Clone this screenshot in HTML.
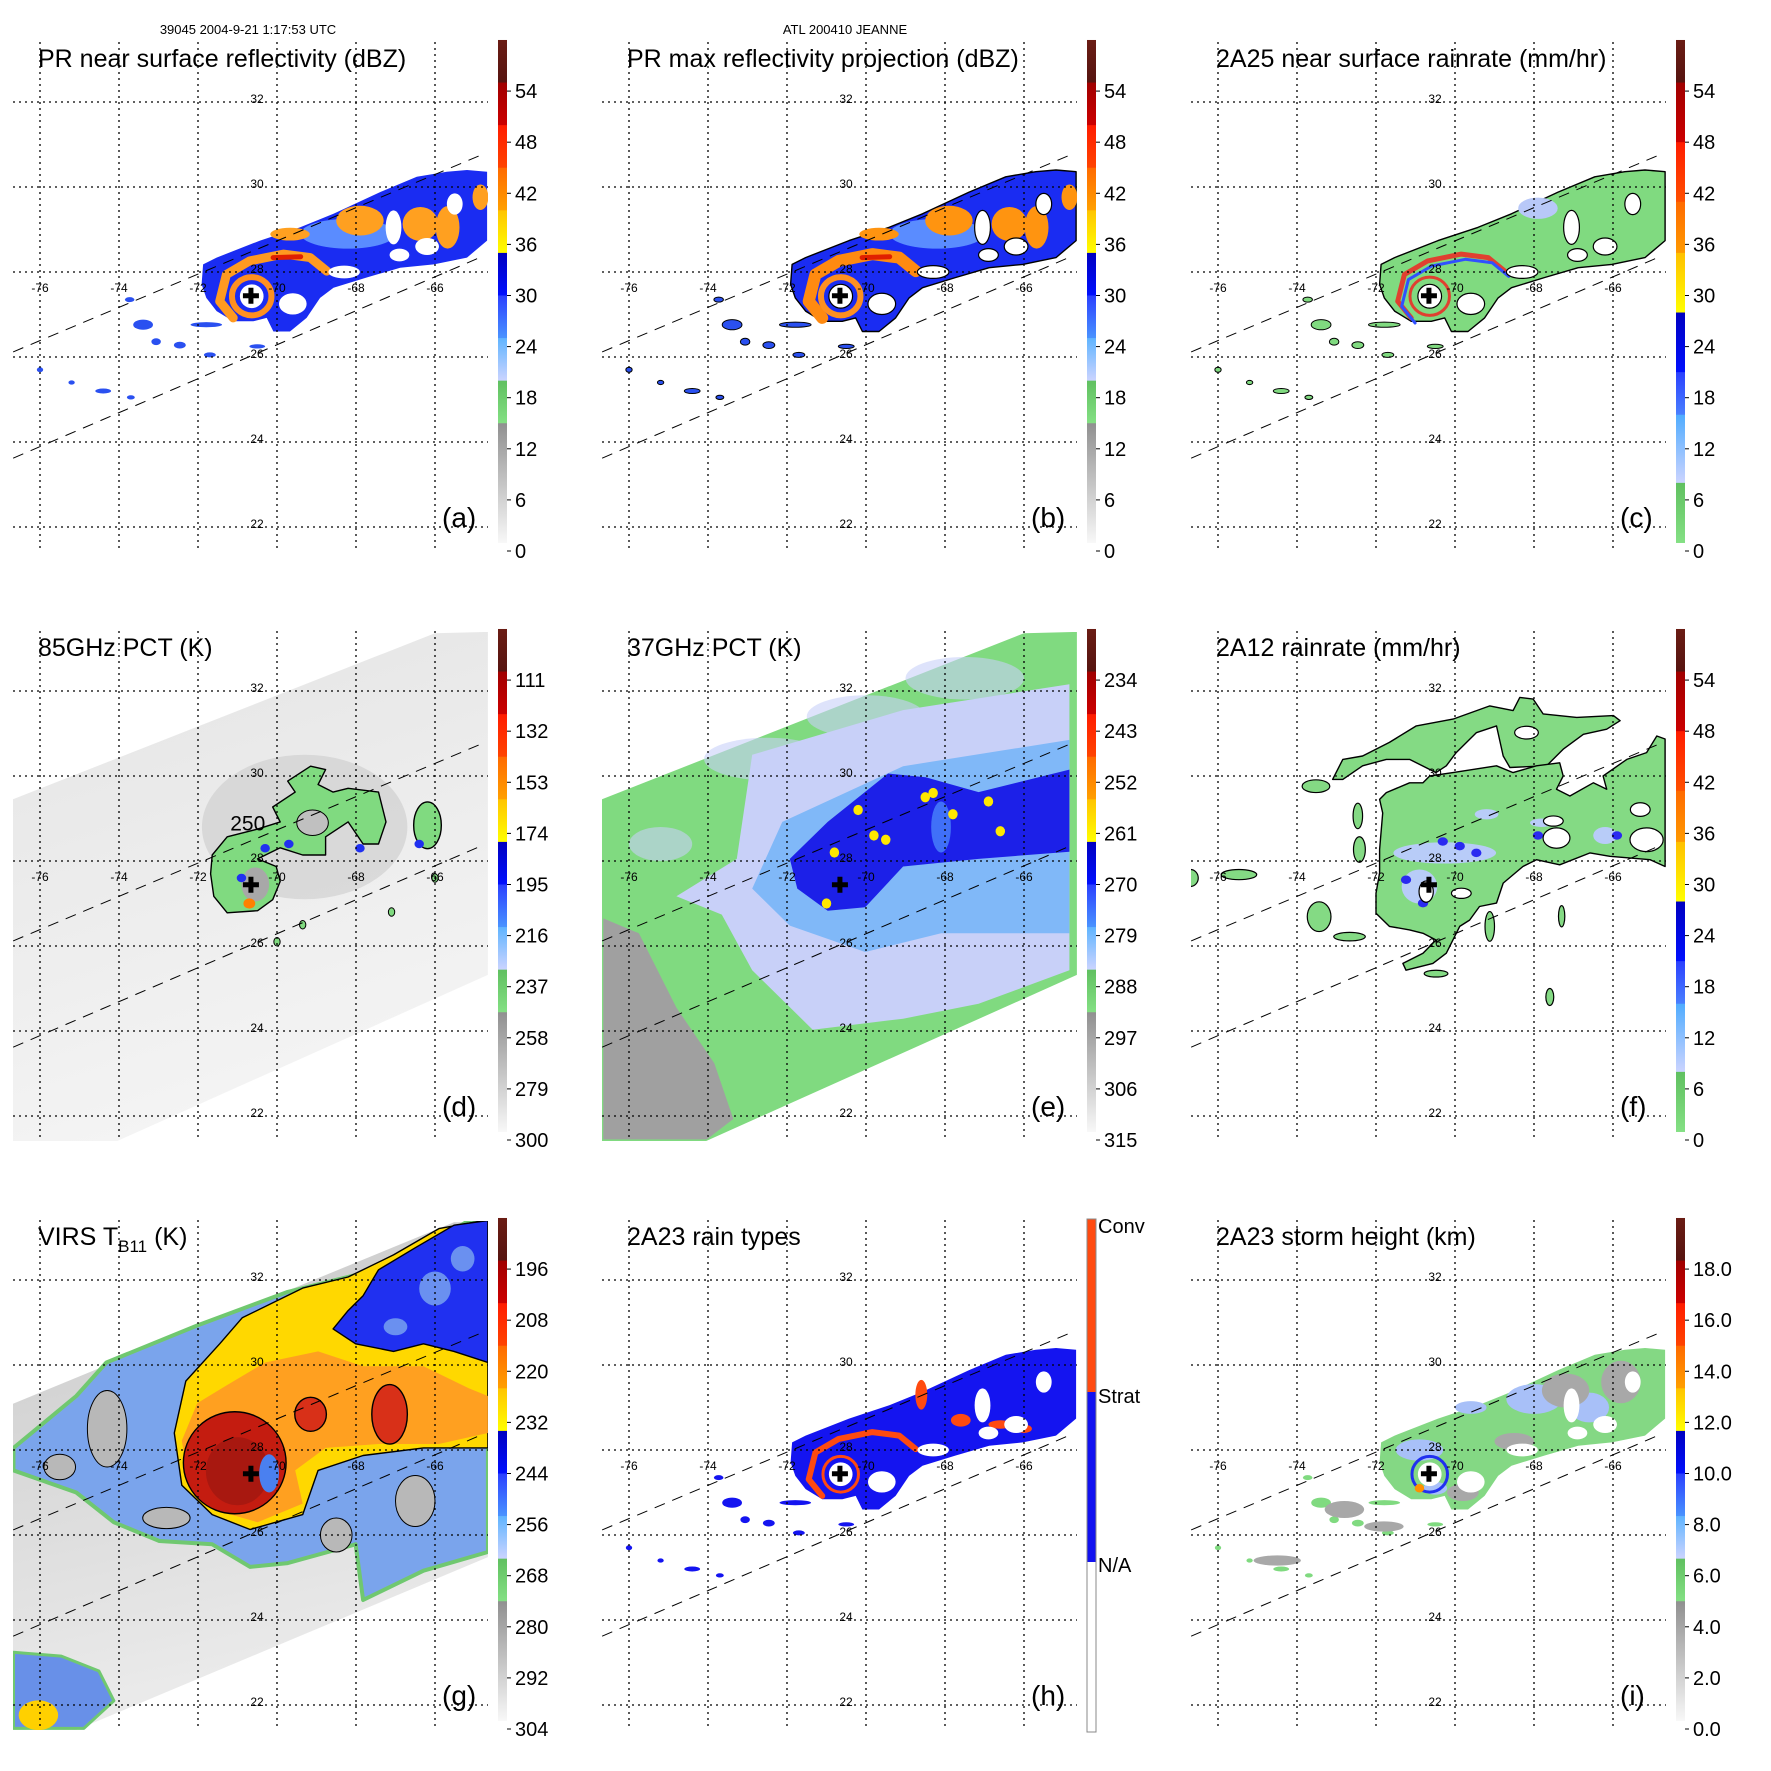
<!DOCTYPE html>
<html><head><meta charset="utf-8"><title>JEANNE TRMM overpass</title>
<style>
html,body{margin:0;padding:0;background:#fff;}
svg{display:block;font-family:"Liberation Sans",Arial,sans-serif;}
</style></head>
<body>
<svg id="fig" xmlns="http://www.w3.org/2000/svg" width="1771" height="1771" viewBox="0 0 1771 1771">
<rect x="0" y="0" width="1771" height="1771" fill="#fff"/>
<text x="248" y="34" font-size="13" text-anchor="middle">39045 2004-9-21 1:17:53 UTC</text>
<text x="845" y="34" font-size="13" text-anchor="middle">ATL 200410 JEANNE</text>
<defs id="defs"></defs>
</svg>
<script>
// ---------- data ----------
const lonTicks=[-76,-74,-72,-70,-68,-66];
const latTicks=[32,30,28,26,24,22];
const stormCenter=[-70.66,27.44];
const ticksDbz=['54','48','42','36','30','24','18','12','6','0'];
const ticksRain=['54','48','42','36','30','24','18','12','6','0'];
const ticks85=['111','132','153','174','195','216','237','258','279','300'];
const ticks37=['234','243','252','261','270','279','288','297','306','315'];
const ticksVirs=['196','208','220','232','244','256','268','280','292','304'];
const ticksHeight=['18.0','16.0','14.0','12.0','10.0','8.0','6.0','4.0','2.0','0.0'];
const rainTypeLabels=['Conv','Strat','N/A'];
const bandEdgesA=[60,55,50,45,40,35,30,25,20,15,1];
const bandEdgesC=[60,55,48,41,35,28,21,16,8,1];
const bandColorsA=[['#6a1c14','#561410'],['#a00000','#cc0000'],['#ff1c00','#ff4400'],['#ff6a00','#ffa000'],['#ffc400','#ffff00'],['#0000c0','#0010ff'],['#2a40ff','#4a94ff'],['#60b4ff','#ccd4ff'],['#60c060','#84e084'],['#909090','#f8f8f8']];
const bandColorsC=[['#6a1c14','#561410'],['#a00000','#cc0000'],['#ff1c00','#ff5000'],['#ff6a00','#ff9a00'],['#ffc000','#ffff00'],['#0000c0','#0010ff'],['#2a40ff','#4a80ff'],['#50acff','#ccd4ff'],['#60c060','#84e084']];
const swathUpper=[[-76.68,26.12],[-64.89,30.73]];
const swathLower=[[-76.68,23.62],[-64.89,28.33]];
const microSwath=[[-76.94,29.36],[-66.0,33.36],[-64.66,33.39],[-64.66,25.32],[-74.05,21.41],[-76.94,21.41]];
const virsSwath=[[-76.94,28.99],[-65.52,33.36],[-64.66,33.36],[-64.66,25.48],[-75.09,21.41],[-76.94,21.41]];
const prBody=[[-71.87,28.18],[-71.53,28.34],[-70.43,28.74],[-69.42,29.05],[-68.57,29.37],[-67.39,29.88],[-66.46,30.24],[-65.70,30.36],[-65.19,30.40],[-64.68,30.36],[-64.68,28.74],[-65.19,28.34],[-66.03,28.18],[-66.88,28.10],[-67.73,27.87],[-68.57,27.63],[-68.91,27.39],[-69.25,26.92],[-69.67,26.60],[-70.09,26.60],[-70.26,26.92],[-70.60,26.84],[-71.11,26.84],[-71.53,27.08],[-71.79,27.39],[-71.91,27.71]];
const prHoles=[[-67.05,29.05,0.2,0.4],[-66.2,28.6,0.3,0.2],[-68.3,28.0,0.4,0.15],[-69.6,27.25,0.35,0.25],[-65.5,29.6,0.2,0.25],[-66.9,28.4,0.25,0.15],[-70.64,27.43,0.3,0.28]];
const prSpiral=[[-71.11,26.92],[-71.45,27.31],[-71.28,27.94],[-70.69,28.26],[-69.84,28.42],[-69.16,28.34],[-68.74,28.02]];
const prConvPatches=[[-67.90,29.21,0.6,0.35],[-66.37,29.13,0.45,0.4],[-65.68,29.05,0.3,0.5],[-64.85,29.76,0.2,0.3],[-69.67,28.89,0.5,0.15]];
const prFragments=[[-73.39,26.76,0.25,0.12],[-73.06,26.36,0.12,0.08],[-71.79,26.76,0.4,0.06],[-72.46,26.28,0.15,0.08],[-71.70,26.05,0.15,0.06],[-73.73,27.35,0.12,0.06],[-76.0,25.7,0.08,0.06],[-75.2,25.4,0.08,0.05],[-74.4,25.2,0.2,0.06],[-73.7,25.05,0.1,0.05],[-70.5,26.25,0.2,0.05]];
const dHook=[[-71.64,28.14],[-71.26,28.57],[-70.49,28.75],[-69.92,28.92],[-70.11,29.27],[-69.54,29.62],[-69.73,29.88],[-69.15,30.23],[-68.77,30.15],[-68.96,29.80],[-68.58,29.62],[-68.20,29.71],[-67.43,29.62],[-67.24,28.92],[-67.43,28.40],[-67.82,28.40],[-68.20,28.92],[-68.77,28.57],[-68.77,28.14],[-69.35,28.14],[-69.92,28.31],[-70.49,28.05],[-70.02,27.87],[-69.92,27.52],[-70.11,27.09],[-70.49,26.83],[-71.26,26.78],[-71.60,27.17],[-71.68,27.70]];
const eLavender=[[-72.88,30.50],[-69.06,31.55],[-64.85,32.16],[-64.85,25.43],[-67.15,24.64],[-69.06,24.29],[-71.35,24.03],[-72.88,25.43],[-73.65,26.74],[-74.80,27.17],[-73.27,28.05]];
const eLightBlue=[[-72.12,28.92],[-69.06,30.23],[-64.85,30.85],[-64.85,26.30],[-68.10,26.30],[-70.02,25.86],[-71.93,26.48],[-72.88,27.35]];
const eCore=[[-71.93,28.05],[-70.97,28.92],[-69.44,30.06],[-68.49,29.97],[-67.15,29.62],[-64.85,30.15],[-64.85,28.22],[-67.15,28.05],[-69.06,27.87],[-70.02,26.91],[-70.97,26.83],[-71.74,27.35]];
const eGray=[[-76.65,26.65],[-75.75,26.30],[-74.80,24.55],[-73.84,23.24],[-73.36,21.93],[-74.03,21.45],[-76.65,21.45]];
const eYellow=[[-70.2,29.2],[-69.8,28.6],[-69.5,28.5],[-68.5,29.5],[-67.8,29.1],[-66.9,29.4],[-66.6,28.7],[-71.0,27.0],[-70.8,28.2],[-68.3,29.6]];
const fArcA=[[-73.10,29.92],[-72.84,30.39],[-72.34,30.47],[-71.66,30.79],[-70.98,31.18],[-70.05,31.34],[-69.12,31.65],[-68.53,31.54],[-68.36,31.85],[-68.02,31.81],[-67.77,31.46],[-66.92,31.38],[-65.99,31.42],[-65.82,31.30],[-66.16,31.10],[-66.75,30.98],[-67.26,30.63],[-67.68,30.24],[-68.61,30.20],[-68.78,30.47],[-68.95,31.18],[-69.46,31.02],[-69.97,30.55],[-70.22,30.24],[-70.48,30.08],[-71.15,30.39],[-71.74,30.39],[-72.34,30.24],[-72.84,29.92]];
const fBody=[[-71.91,28.27],[-71.83,29.13],[-71.91,29.45],[-71.74,29.61],[-71.15,29.84],[-70.81,29.84],[-70.64,30.00],[-70.05,30.08],[-68.95,30.24],[-68.53,30.08],[-67.94,30.24],[-67.35,30.31],[-67.26,30.00],[-67.43,29.69],[-67.09,29.53],[-66.50,29.84],[-66.16,29.69],[-66.25,30.00],[-65.65,30.39],[-65.15,30.55],[-64.89,30.94],[-64.68,30.87],[-64.68,27.87],[-65.06,28.03],[-66.08,28.11],[-66.58,28.19],[-67.35,27.91],[-67.94,28.03],[-68.28,27.87],[-68.78,27.48],[-68.95,27.01],[-69.38,26.93],[-69.63,26.61],[-69.88,26.46],[-70.22,25.83],[-70.56,25.59],[-71.24,25.43],[-71.32,25.59],[-70.81,25.83],[-70.48,26.14],[-70.81,26.30],[-71.15,26.38],[-71.66,26.46],[-72.00,26.77],[-72.00,27.24],[-71.91,27.72]];
const fHoles=[[-67.43,28.54,0.34,0.24],[-65.15,28.50,0.42,0.28],[-67.51,28.94,0.25,0.12],[-70.73,27.28,0.18,0.25],[-69.84,27.24,0.25,0.12],[-65.31,29.21,0.25,0.16],[-68.19,31.02,0.3,0.15]];
const fBlobs=[[-73.44,26.69,0.3,0.35],[-75.47,27.68,0.45,0.12],[-72.46,29.06,0.12,0.3],[-72.42,28.27,0.15,0.3],[-73.52,29.76,0.35,0.15],[-72.67,26.22,0.4,0.1],[-70.48,25.35,0.3,0.08],[-69.12,26.46,0.12,0.35],[-67.60,24.80,0.1,0.2],[-76.7,27.6,0.2,0.2],[-67.3,26.7,0.08,0.25]];
const fBlueSpots=[[-70.31,28.46],[-69.88,28.35],[-69.46,28.19],[-71.24,27.56],[-70.81,27.01],[-67.9,28.6],[-65.9,28.6]];
const gBlue=[[-76.67,28.05],[-75.08,29.27],[-74.32,30.06],[-72.02,30.93],[-69.73,31.72],[-67.82,32.16],[-66.29,32.77],[-65.14,33.40],[-64.66,33.40],[-64.66,25.60],[-66.29,25.16],[-67.82,24.47],[-68.01,25.78],[-69.73,25.34],[-70.68,25.25],[-71.64,25.78],[-72.98,25.86],[-74.13,26.30],[-75.08,27.00],[-76.67,27.52]];
const gYellow=[[-72.60,28.40],[-72.31,29.62],[-71.45,30.50],[-70.88,31.11],[-69.35,31.81],[-68.20,32.07],[-67.05,32.59],[-65.90,33.21],[-64.76,33.40],[-64.66,33.40],[-64.66,28.05],[-66.29,28.05],[-67.82,27.87],[-68.96,27.52],[-69.35,26.48],[-70.68,26.13],[-71.64,26.48],[-72.41,27.17]];
const gColdTop=[[-67.82,31.63],[-67.43,32.24],[-66.48,32.77],[-65.52,33.29],[-64.66,33.40],[-64.66,30.06],[-65.52,30.32],[-66.29,30.50],[-67.05,30.32],[-68.01,30.50],[-68.58,30.85],[-68.20,31.28]];
const gOrange=[[-72.41,28.22],[-72.02,29.10],[-71.26,29.53],[-70.30,30.06],[-68.96,30.32],[-67.82,29.97],[-66.29,29.97],[-65.14,29.45],[-64.66,29.27],[-64.66,28.40],[-65.90,28.14],[-67.43,28.14],[-68.77,28.05],[-69.54,27.52],[-69.35,26.74],[-70.49,26.30],[-71.45,26.56],[-72.21,27.17]];
const gRedCore=[-71.07,27.70,1.3,1.2];
const gRedCells=[[-69.15,28.84,0.4,0.4],[-67.15,28.84,0.45,0.7]];
const gCornerCloud=[[-76.67,23.24],[-75.46,23.15],[-74.51,22.80],[-74.13,22.10],[-74.89,21.45],[-76.67,21.45]];
const iGrayPatches=[[-67.2,29.4,0.6,0.4],[-65.8,29.6,0.5,0.5],[-68.5,28.2,0.5,0.2],[-69.8,27.0,0.4,0.2],[-72.8,26.6,0.5,0.2],[-71.8,26.2,0.5,0.12],[-74.5,25.4,0.6,0.12]];
const iBluePatches=[[-68.0,29.2,0.7,0.35],[-66.6,29.0,0.5,0.35],[-70.9,28.0,0.6,0.25],[-70.5,27.1,0.3,0.15],[-69.6,29.0,0.4,0.15]];

// ---------- helpers ----------
const NS='http://www.w3.org/2000/svg';
const svg=document.getElementById('fig');
const defs=document.getElementById('defs');
const STEP=589;
function X(lon){return 40+(lon+76)*39.5;}
function Y(lat){return 102+(32-lat)*42.5;}
function CB(v){return 551-v*8.517;}
function mk(tag,attrs,parent){const e=document.createElementNS(NS,tag);for(const k in attrs)e.setAttribute(k,attrs[k]);parent.appendChild(e);return e;}
function P(list){return list.map(p=>X(p[0]).toFixed(1)+','+Y(p[1]).toFixed(1)).join(' ');}
function poly(g,list,fill,stroke,name,sw){
  const e=mk('polygon',{points:P(list),fill:fill,stroke:stroke||'none','stroke-width':sw||1.4,'stroke-linejoin':'round'},g);
  
  
  return e;}
function ell(g,c,fill,stroke,name,sw){
  const e=mk('ellipse',{cx:X(c[0]),cy:Y(c[1]),rx:c[2]*39.5,ry:c[3]*42.5,fill:fill,stroke:stroke||'none','stroke-width':sw||1.4},g);
  
  
  return e;}
function curve(g,list,stroke,w,name){
  const d='M'+list.map(p=>X(p[0]).toFixed(1)+' '+Y(p[1]).toFixed(1)).join(' L');
  const e=mk('path',{d:d,fill:'none',stroke:stroke,'stroke-width':w,'stroke-linecap':'round','stroke-linejoin':'round'},g);
  
  
  return e;}
function grad(id,c1,c2,x2,y2){
  const lg=mk('linearGradient',{id:id,x1:0,y1:0,x2:x2,y2:y2},defs);
  mk('stop',{offset:0,'stop-color':c1},lg);mk('stop',{offset:1,'stop-color':c2},lg);}

// ---------- panel data layers ----------
function prLayer(g,mode){
  const body={a:'#1a2cf2',b:'#1a2cf2',c:'#80da80',h:'#1414f0',i:'#84d884'}[mode];
  const stroke=(mode==='b'||mode==='c')?'#000':'none';
  prFragments.forEach(f=>ell(g,f,mode==='c'||mode==='i'?'#80da80':(mode==='h'?'#1414f0':'#2a50f0'),stroke,'rain-fragment',1));
  poly(g,prBody,body,stroke,'pr-rain-body');
  if(mode==='a'||mode==='b'){
    ell(g,[-68.2,28.9,1.2,0.35],'#5a8cff','none','light-rain-band');
    prConvPatches.forEach(c=>ell(g,c,mode==='b'?'#ff9410':'#ffa020','none','convective-patch'));
    curve(g,prSpiral,mode==='b'?'#ff8a10':'#ff9a20',mode==='b'?12:9,'spiral-rainband');
    curve(g,[[-70.1,28.34],[-69.4,28.36]],'#e02000',5,'intense-core');
    ell(g,[-70.64,27.43,0.5,0.45],'none','#ff9020','eyewall-ring',6);
  } else if(mode==='c'){
    curve(g,prSpiral,'#e04030',5,'heavy-rain-band');
    curve(g,prSpiral.map(p=>[p[0]+0.1,p[1]-0.12]),'#3050ff',3,'moderate-rain-band');
    ell(g,[-67.9,29.5,0.5,0.25],'#b8c8f8','none','light-rain-patch');
    ell(g,[-70.64,27.43,0.5,0.45],'none','#e04030','eyewall-ring',3);
  } else if(mode==='h'){
    curve(g,prSpiral,'#ff4a10',6,'convective-band');
    ell(g,[-70.64,27.43,0.45,0.42],'none','#ff4a10','eyewall-ring',3);
    [[-68.6,29.3,0.15,0.35],[-67.6,28.7,0.25,0.15],[-66.6,28.6,0.3,0.1],[-66.0,28.5,0.2,0.1]].forEach(c=>ell(g,c,'#ff4a10','none','convective-cell'));
  } else if(mode==='i'){
    iBluePatches.forEach(c=>ell(g,c,'#a8c0f8','none','height-8km-patch'));
    iGrayPatches.forEach(c=>ell(g,c,'#a8a8a8','none','height-4km-patch'));
    ell(g,[-70.64,27.43,0.45,0.42],'none','#2030f0','eyewall-ring',3);
    ell(g,[-70.9,27.1,0.12,0.1],'#ff9000','none','tall-cell');
  }
  prHoles.forEach(h=>ell(g,h,'#fff',stroke,'no-rain-hole',1.2));
}
function layerD(g){
  poly(g,microSwath,'url(#gd)','none','85ghz-swath');
  ell(g,[-69.3,28.8,2.6,1.7],'#c8c8c8','none','ice-scattering-halo').setAttribute('opacity','0.55');
  poly(g,dHook,'#80da80','#000','pct-250k-contour');
  ell(g,[-69.1,28.9,0.4,0.3],'#c0c0c0','#000','contour-hole',1);
  ell(g,[-70.55,27.45,0.35,0.4],'#a8a8a8','none','eye-region');
  ell(g,[-66.19,28.84,0.35,0.55],'#80da80','#000','cell-contour');
  ell(g,[-70.7,27.0,0.15,0.12],'#ff8000','none','strong-scattering');
  [[-70.3,28.3],[-69.7,28.4],[-67.9,28.3],[-66.4,28.4],[-70.9,27.6]].forEach(c=>ell(g,[c[0],c[1],0.12,0.1],'#2030f0','none','deep-convection-spot'));
  [[-66.0,27.6],[-69.35,26.5],[-70.0,26.1],[-67.1,26.8]].forEach(c=>ell(g,[c[0],c[1],0.08,0.1],'#80da80','#000','small-cell',1));
  const t=mk('text',{x:X(-70.74),y:Y(28.88)+7,'font-size':21,'text-anchor':'middle'},g);
  
  
  t.textContent='250';
}
function layerE(g){
  poly(g,microSwath,'#80da80','none','37ghz-swath');
  poly(g,eGray,'#a0a0a0','none','warm-ocean-region');
  [[-72.5,30.4,1.6,0.5],[-70.0,31.4,1.5,0.5],[-67.5,32.3,1.5,0.5],[-75.2,28.4,0.8,0.4]].forEach(c=>ell(g,c,'#c8d0f8','none','speckle-region').setAttribute('opacity','0.6'));
  poly(g,eLavender,'#c8d0f8','none','light-rain-region');
  poly(g,eLightBlue,'#80b8f8','none','moderate-rain-region');
  poly(g,eCore,'#1c20e8','none','heavy-rain-core');
  ell(g,[-68.1,28.8,0.25,0.6],'#4070f8','none','core-gap');
  eYellow.forEach(c=>ell(g,[c[0],c[1],0.12,0.12],'#ffe800','none','very-heavy-rain-spot'));
}
function layerF(g){
  fBlobs.forEach(c=>ell(g,c,'#84da84','#000','rain-blob',1.2));
  poly(g,fArcA,'#84da84','#000','outer-rainband');
  poly(g,fBody,'#84da84','#000','main-rain-shield');
  ell(g,[-70.26,28.19,1.3,0.25],'#b8ccf8','none','moderate-rain-band');
  ell(g,[-70.9,27.4,0.45,0.4],'#b8ccf8','none','inner-core-rain');
  [[-69.2,29.1,0.3,0.12],[-67.8,28.9,0.3,0.1],[-66.2,28.6,0.3,0.2]].forEach(c=>ell(g,c,'#b8ccf8','none','light-rain-patch'));
  fBlueSpots.forEach(c=>ell(g,[c[0],c[1],0.13,0.1],'#2a2af0','none','heavy-rain-spot'));
  fHoles.forEach(h=>ell(g,h,'#fff','#000','no-rain-hole',1.2));
}
function layerG(g){
  poly(g,virsSwath,'url(#gg)','none','virs-swath');
  poly(g,gCornerCloud,'#6890e8','#70c870','corner-cloud',3);
  ell(g,[-76.04,21.76,0.5,0.35],'#ffd000','none','corner-cold-top');
  poly(g,gBlue,'#7aa4ec','#70c870','cloud-shield-edge',4);
  [[-74.3,28.5,0.5,0.9],[-75.5,27.6,0.4,0.3],[-68.5,26.0,0.4,0.4],[-66.5,26.8,0.5,0.6],[-72.8,26.4,0.6,0.25]].forEach(c=>ell(g,c,'#b8b8b8','#000','clear-gap',1));
  poly(g,gYellow,'#ffd800','#000','cold-cloud-232k');
  poly(g,gColdTop,'#2030f0','#000','anvil-cloud');
  [[-66.0,31.8,0.4,0.4],[-65.3,32.5,0.3,0.3],[-67.0,30.9,0.3,0.2]].forEach(c=>ell(g,c,'#6a90f0','none','anvil-texture'));
  poly(g,gOrange,'#ffa020','none','cold-cloud-220k');
  ell(g,gRedCore,'#c41c10','#000','central-dense-overcast');
  ell(g,[-71.0,27.5,0.8,0.8],'#a81810','none','cdo-core');
  gRedCells.forEach(c=>ell(g,c,'#d83018','#000','convective-tower'));
  ell(g,[-70.2,27.45,0.25,0.45],'#4a80f0','none','eye-slot');
}

// ---------- panels ----------
const panels=[
 {letter:'(a)',title:'PR near surface reflectivity (dBZ)',ticks:ticksDbz,scale:'A',layer:g=>prLayer(g,'a')},
 {letter:'(b)',title:'PR max reflectivity projection (dBZ)',ticks:ticksDbz,scale:'A',layer:g=>prLayer(g,'b')},
 {letter:'(c)',title:'2A25 near surface rainrate (mm/hr)',ticks:ticksRain,scale:'C',layer:g=>prLayer(g,'c')},
 {letter:'(d)',title:'85GHz PCT (K)',ticks:ticks85,scale:'A',layer:layerD},
 {letter:'(e)',title:'37GHz PCT (K)',ticks:ticks37,scale:'A',layer:layerE},
 {letter:'(f)',title:'2A12 rainrate (mm/hr)',ticks:ticksRain,scale:'C',layer:layerF},
 {letter:'(g)',title:'VIRS',ticks:ticksVirs,scale:'A',layer:layerG},
 {letter:'(h)',title:'2A23 rain types',ticks:null,scale:'H',layer:g=>prLayer(g,'h')},
 {letter:'(i)',title:'2A23 storm height (km)',ticks:ticksHeight,scale:'A',layer:g=>prLayer(g,'i')}
];
const panelNames=['panel-a','panel-b','panel-c','panel-d','panel-e','panel-f','panel-g','panel-h','panel-i'];

grad('gd','#e4e4e4','#f4f4f4',0.3,1);
grad('gg','#c8c8c8','#ececec',0.2,1);
bandColorsA.forEach((c,k)=>grad('ba'+k,c[0],c[1],0,1));
bandColorsC.forEach((c,k)=>grad('bc'+k,c[0],c[1],0,1));

panels.forEach((p,i)=>{
  const col=i%3,row=Math.floor(i/3);
  const g=mk('g',{transform:`translate(${col*STEP},${row*STEP})`},svg);
  
  
  const cp=mk('clipPath',{id:'clip'+i},defs);
  mk('rect',{x:13,y:43,width:475,height:509},cp);
  const dl=mk('g',{'clip-path':`url(#clip${i})`},g);
  
  
  p.layer(dl);
  lonTicks.forEach(lon=>{
    const l=mk('line',{x1:X(lon),x2:X(lon),y1:42,y2:550,stroke:'#000','stroke-width':1.3,'stroke-dasharray':'2,4'},g);
    
    
    const t=mk('text',{x:X(lon),y:292,'font-size':12,'text-anchor':'middle'},g);
    
    
    t.textContent=String(lon);
  });
  latTicks.forEach(lat=>{
    const l=mk('line',{x1:13,x2:488,y1:Y(lat),y2:Y(lat),stroke:'#000','stroke-width':1.3,'stroke-dasharray':'2,4'},g);
    
    
    const t=mk('text',{x:257,y:Y(lat)+1,'font-size':12,'text-anchor':'middle'},g);
    
    
    t.textContent=String(lat);
  });
  [swathUpper,swathLower].forEach(s=>{
    const l=mk('line',{x1:X(s[0][0]),y1:Y(s[0][1]),x2:X(s[1][0]),y2:Y(s[1][1]),stroke:'#000','stroke-width':1,'stroke-dasharray':'11,8'},g);
    
    
  });
  const cx=X(stormCenter[0]),cy=Y(stormCenter[1]);
  const cr=mk('path',{d:`M${cx-8} ${cy}H${cx+8}M${cx} ${cy-8}V${cy+8}`,stroke:'#000','stroke-width':5},g);
  
  
  const tt=mk('text',{x:38,y:67,'font-size':25},g);
  
  
  if(p.title==='VIRS'){
    tt.textContent='VIRS T';
    const sub=mk('tspan',{'font-size':17,dy:7},tt);
    sub.textContent='B11';
    const rest=mk('tspan',{dy:-7},tt);
    rest.textContent=' (K)';
  } else tt.textContent=p.title;
  const cb=mk('g',{},g);
  
  
  if(p.scale==='H'){
    const segs=[[41,214,'#ff4a10'],[214,384,'#1212f0'],[384,554,'#ffffff']];
    segs.forEach(s=>{
      const r=mk('rect',{x:498,y:s[0],width:9,height:s[1]-s[0],fill:s[2]},cb);
      
      
    });
    const o=mk('rect',{x:498,y:41,width:9,height:513,fill:'none',stroke:'#888','stroke-width':1},cb);
    
    
    const ly=[48,218,387];
    rainTypeLabels.forEach((s,k)=>{
      const t=mk('text',{x:509,y:ly[k]+7,'font-size':20},cb);
      
      
      t.textContent=s;
    });
  } else {
    const edges=p.scale==='A'?bandEdgesA:bandEdgesC;
    const pre=p.scale==='A'?'ba':'bc';
    for(let k=0;k<edges.length-1;k++){
      const y1=CB(edges[k]),y2=CB(edges[k+1]);
      const r=mk('rect',{x:498,y:y1,width:9,height:y2-y1+0.5,fill:`url(#${pre}${k})`},cb);
      
      
    }
    p.ticks.forEach((lab,k)=>{
      const y=CB(54-6*k);
      const tk=mk('line',{x1:507,x2:511,y1:y,y2:y,stroke:'#000','stroke-width':1},cb);
      
      
      const t=mk('text',{x:515,y:y+7,'font-size':20},cb);
      
      
      t.textContent=lab;
    });
  }
  const lt=mk('text',{x:442,y:527,'font-size':28},g);
  
  
  lt.textContent=p.letter;
});
</script>
</body></html>
